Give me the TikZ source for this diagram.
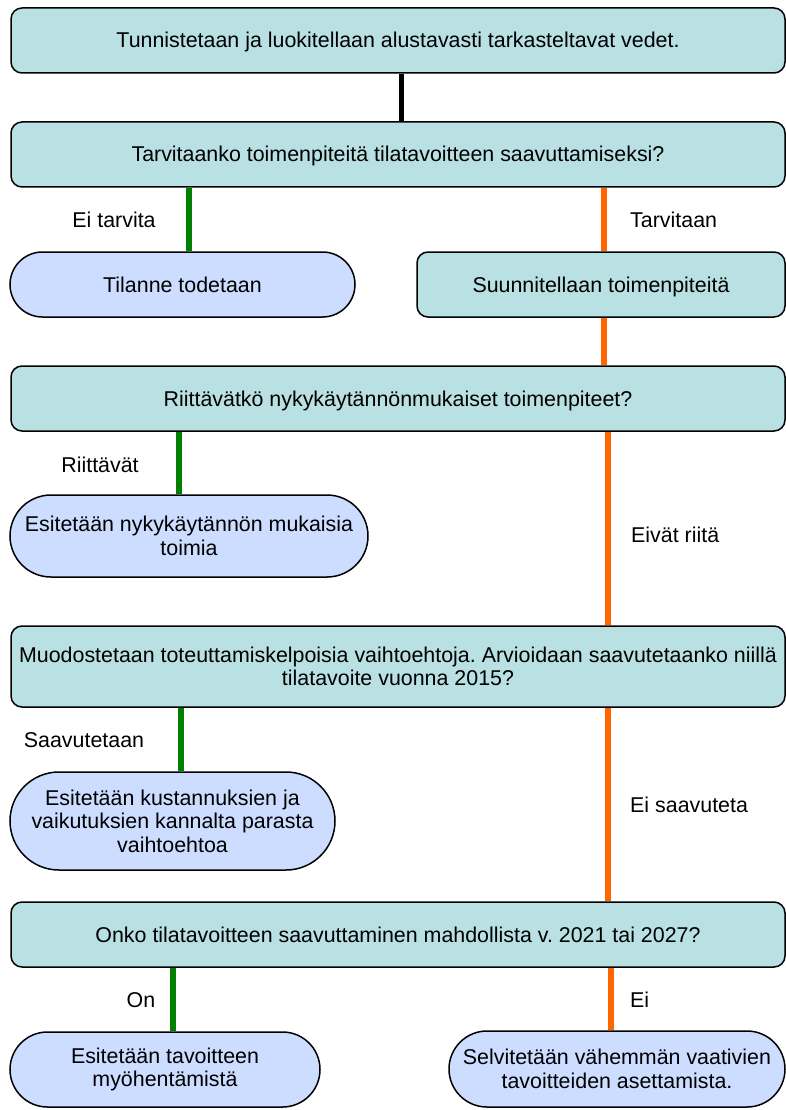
\documentclass[tikz,border=0pt]{standalone}
\usepackage{fontspec}
\setmainfont{Liberation Sans}
\usetikzlibrary{shapes.misc}
\definecolor{boxteal}{RGB}{185,224,227}
\definecolor{pillblue}{RGB}{204,221,255}
\definecolor{flowgreen}{RGB}{0,128,0}
\definecolor{floworange}{RGB}{255,102,0}
\begin{document}
\frenchspacing
\begin{tikzpicture}[x=1pt,y=1pt,
  txt/.style={font=\fontsize{21.4}{23.5}\selectfont},
  single/.style={text height=15pt,text depth=0pt},
  box/.style={txt,draw=black,line width=1.5pt,fill=boxteal,rounded corners=11pt,
    minimum width=774pt,minimum height=65pt,align=center,inner sep=0pt},
  pill/.style={txt,rounded rectangle,draw=black,line width=1.5pt,fill=pillblue,align=center,inner sep=0pt},
  lbl/.style={txt,inner sep=0pt},
  blackline/.style={line width=5pt,black},
  greenline/.style={line width=5.5pt,flowgreen},
  orangeline/.style={line width=5.5pt,floworange}
]
\useasboundingbox (0,0) rectangle (786,-1110);

% boxes
\node[box,single] (b1) at (398,-40.5) {Tunnistetaan ja luokitellaan alustavasti tarkasteltavat vedet.};
\node[box,single] (b2) at (398,-154.5) {Tarvitaanko toimenpiteitä tilatavoitteen saavuttamiseksi?};
\node[pill,single,minimum width=345pt,minimum height=65pt] (p1) at (182.5,-284.5) {Tilanne todetaan};
\node[box,single,minimum width=368pt] (sb) at (601,-284.5) {Suunnitellaan toimenpiteitä};
\node[box,single] (b3) at (398,-398.5) {Riittävätkö nykykäytännönmukaiset toimenpiteet?};
\node[pill,minimum width=358pt,minimum height=82pt] (p2) at (189,-536) {Esitetään nykykäytännön mukaisia\\toimia};
\node[box,minimum height=81pt] (b4) at (398,-666.5) {Muodostetaan toteuttamiskelpoisia vaihtoehtoja. Arvioidaan saavutetaanko niillä\\tilatavoite vuonna 2015?};
\node[pill,minimum width=325pt,minimum height=98pt] (p3) at (172.5,-821) {Esitetään kustannuksien ja\\vaikutuksien kannalta parasta\\vaihtoehtoa};
\node[box,single] (b5) at (398,-934.5) {Onko tilatavoitteen saavuttaminen mahdollista v. 2021 tai 2027?};
\node[pill,minimum width=310pt,minimum height=75pt] (p4) at (165,-1069.5) {Esitetään tavoitteen\\myöhentämistä};
\node[pill,minimum width=336pt,minimum height=76pt] (p5) at (617,-1069) {Selvitetään vähemmän vaativien\\tavoitteiden asettamista.};

% x positions of connectors
\coordinate (xk) at (401,0);
\coordinate (xg1) at (189,0);
\coordinate (xo1) at (604,0);
\coordinate (xg2) at (179,0);
\coordinate (xo2) at (608,0);
\coordinate (xg3) at (181,0);
\coordinate (xg4) at (173,0);
\coordinate (xo4) at (611,0);

% connectors
\draw[blackline] (b1.south -| xk) -- (b2.north -| xk);
\draw[greenline] (b2.south -| xg1) -- (p1.north -| xg1);
\draw[orangeline] (b2.south -| xo1) -- (sb.north -| xo1);
\draw[orangeline] (sb.south -| xo1) -- (b3.north -| xo1);
\draw[greenline] (b3.south -| xg2) -- (p2.north -| xg2);
\draw[orangeline] (b3.south -| xo2) -- (b4.north -| xo2);
\draw[greenline] (b4.south -| xg3) -- (p3.north -| xg3);
\draw[orangeline] (b4.south -| xo2) -- (b5.north -| xo2);
\draw[greenline] (b5.south -| xg4) -- (p4.north -| xg4);
\draw[orangeline] (b5.south -| xo4) -- (p5.north -| xo4);

% labels
\node[lbl,anchor=base] (l1) at (114,-227) {Ei tarvita};
\node[lbl,anchor=base west] (l2) at (630,-227) {Tarvitaan};
\node[lbl,anchor=base] (l3) at (100,-472) {Riittävät};
\node[lbl,anchor=base west] (l4) at (631,-542) {Eivät riitä};
\node[lbl,anchor=base] (l5) at (84,-747) {Saavutetaan};
\node[lbl,anchor=base west] (l6) at (630,-812) {Ei saavuteta};
\node[lbl,anchor=base] (l7) at (141,-1007) {On};
\node[lbl,anchor=base west] (l8) at (630,-1007) {Ei};
\end{tikzpicture}
\end{document}
